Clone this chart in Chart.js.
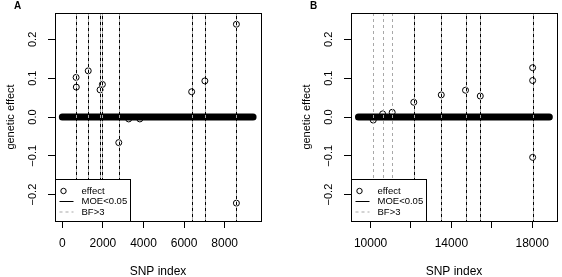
<!DOCTYPE html>
<html>
<head>
<meta charset="utf-8">
<script src="https://cdn.jsdelivr.net/npm/chart.js@4.4.0/dist/chart.umd.min.js"></script>
<style>
  html, body { margin: 0; padding: 0; background: #fff; overflow: hidden; }
  #wrap { position: relative; width: 562px; height: 277px; }
  canvas { position: absolute; top: 0; }
</style>
</head>
<body>
<div id="wrap">
  <canvas id="chartA" width="266" height="277" style="left:0px"></canvas>
  <canvas id="chartB" width="266" height="277" style="left:296px"></canvas>
</div>
<script>
// values
const yRange = [-0.268, 0.268];
const yTicks = [-0.2, -0.1, 0, 0.1, 0.2];

const aRange = [-360, 9790];
const aTicks = [0, 2000, 4000, 6000, 8000];
const aTickLabels = ['0', '2000', '4000', '6000', '8000'];
const aSnpSpan = [1, 9400];
const aEffectIdx = [680, 690, 1277, 1860, 1975, 2782, 3270, 3820, 6374, 7024, 8578, 8578];
const aEffectVal = [0.102, 0.077, 0.119, 0.070, 0.084, -0.066, -0.005, -0.005, 0.065, 0.093, 0.239, -0.222];
const aMoe = [680, 1277, 1880, 1975, 2782, 6374, 7024, 8578];
const aBf = [680, 1277, 1880, 1975, 2782, 6374, 7024, 8578];

const bRange = [9030, 19230];
const bTicks = [10000, 12000, 14000, 16000, 18000];
const bTickLabels = ['10000', '', '14000', '', '18000'];
const bSnpSpan = [9400, 18850];
const bEffectIdx = [10131, 10598, 11070, 12139, 13500, 14700, 15431, 18024, 18024, 18024];
const bEffectVal = [-0.008, 0.008, 0.012, 0.038, 0.057, 0.069, 0.054, 0.127, 0.094, -0.104];
const bMoe = [12139, 13500, 14700, 15431, 18024];
const bBf = [10131, 10598, 11070, 12139, 13500, 14700, 15431, 18024];

const FONT = '"Liberation Sans", Arial, Helvetica, sans-serif';
const BF_GREY = '#a8a8a8';

function fmtY(v) {
  const s = Math.abs(v).toFixed(1);
  return v < 0 ? '\u2212' + s : s;
}

// R style decorations: box, rotated y labels, titles, legend, abline()s
const rPlot = {
  id: 'rPlot',
  afterDatasetsDraw(chart, args, opts) {
    const { ctx, chartArea: ca, scales } = chart;
    ctx.save();
    ctx.lineWidth = 1;
    opts.moe.forEach(v => {
      const x = Math.round(scales.x.getPixelForValue(v)) + 0.5;
      ctx.strokeStyle = '#000';
      ctx.setLineDash([]);
      ctx.beginPath(); ctx.moveTo(x, ca.top); ctx.lineTo(x, ca.bottom); ctx.stroke();
    });
    opts.bf.forEach(v => {
      const x = Math.round(scales.x.getPixelForValue(v)) + 0.5;
      ctx.strokeStyle = BF_GREY;
      ctx.setLineDash([3, 3]);
      ctx.beginPath(); ctx.moveTo(x, ca.top); ctx.lineTo(x, ca.bottom); ctx.stroke();
    });
    ctx.restore();
  },
  afterDraw(chart, args, opts) {
    const { ctx, chartArea: ca, scales } = chart;
    ctx.save();
    ctx.fillStyle = '#000';
    ctx.strokeStyle = '#000';
    ctx.lineWidth = 1;
    ctx.setLineDash([]);

    // legend
    const lw = 75, lh = 42;
    const lx = ca.left + 0.5, ly = ca.bottom - lh + 0.5;
    ctx.fillStyle = '#fff';
    ctx.fillRect(lx, ly, lw, lh);
    ctx.strokeRect(lx, ly, lw, lh);
    ctx.fillStyle = '#000';
    const rows = [ly + 11.5, ly + 22, ly + 32.5];
    ctx.beginPath(); ctx.arc(lx + 8, rows[0], 2.7, 0, Math.PI * 2); ctx.stroke();
    ctx.beginPath(); ctx.moveTo(lx + 4, rows[1]); ctx.lineTo(lx + 18, rows[1]); ctx.stroke();
    ctx.strokeStyle = BF_GREY;
    ctx.setLineDash([3, 3]);
    ctx.beginPath(); ctx.moveTo(lx + 4, rows[2]); ctx.lineTo(lx + 18, rows[2]); ctx.stroke();
    ctx.setLineDash([]);
    ctx.font = '9.5px ' + FONT;
    ctx.textAlign = 'left';
    ctx.textBaseline = 'middle';
    ['effect', 'MOE<0.05', 'BF>3'].forEach((t, i) => ctx.fillText(t, lx + 26, rows[i]));

    // box
    ctx.strokeStyle = '#000';
    ctx.strokeRect(ca.left + 0.5, ca.top + 0.5, ca.right - ca.left, ca.bottom - ca.top);

    // y tick labels, rotated like R
    ctx.font = '11px ' + FONT;
    ctx.textAlign = 'center';
    ctx.textBaseline = 'middle';
    yTicks.forEach(v => {
      const y = scales.y.getPixelForValue(v);
      ctx.save();
      ctx.translate(33, y);
      ctx.rotate(-Math.PI / 2);
      ctx.fillText(fmtY(v), 0, 0);
      ctx.restore();
    });

    // y title
    ctx.save();
    ctx.translate(11, (ca.top + ca.bottom) / 2);
    ctx.rotate(-Math.PI / 2);
    ctx.font = '11px ' + FONT;
    ctx.fillText('genetic effect', 0, 0);
    ctx.restore();

    // x title
    ctx.font = '12px ' + FONT;
    ctx.fillText('SNP index', (ca.left + ca.right) / 2, 271.5);

    // panel letter
    ctx.font = 'bold 10px ' + FONT;
    ctx.fillText(opts.letter, 17.5, 6.5);
    ctx.restore();
  }
};

function makePanel(id, letter, range, ticks, tickLabels, span, idx, vals, moe, bf) {
  const effect = idx.map((x, i) => ({ x, y: vals[i] }));
  const band = span.map(x => ({ x, y: 0 }));

  return new Chart(document.getElementById(id), {
    type: 'scatter',
    data: {
      datasets: [
        {
          type: 'line',
          data: band,
          borderColor: '#000',
          borderWidth: 7,
          borderCapStyle: 'round',
          pointRadius: 0,
          order: 2
        },
        {
          data: effect,
          pointStyle: 'circle',
          pointRadius: 3,
          pointBorderWidth: 1,
          borderColor: '#000',
          backgroundColor: 'rgba(0,0,0,0)',
          order: 1
        }
      ]
    },
    options: {
      responsive: false,
      devicePixelRatio: 1,
      animation: false,
      events: [],
      layout: { padding: { left: 0, right: 2, top: 13, bottom: 0 } },
      plugins: {
        legend: { display: false },
        tooltip: { enabled: false },
        rPlot: { letter, moe, bf }
      },
      scales: {
        x: {
          type: 'linear',
          min: range[0],
          max: range[1],
          afterBuildTicks: s => { s.ticks = ticks.map(v => ({ value: v })); },
          afterFit: s => { s.height = 56; },
          grid: { drawOnChartArea: false, drawTicks: true, tickLength: 7, color: '#000' },
          border: { display: true, color: '#000' },
          ticks: {
            autoSkip: false,
            maxRotation: 0,
            padding: 8,
            color: '#000',
            font: { family: FONT, size: 12 },
            callback: v => tickLabels[ticks.indexOf(v)] ?? ''
          }
        },
        y: {
          type: 'linear',
          min: yRange[0],
          max: yRange[1],
          afterBuildTicks: s => { s.ticks = yTicks.map(v => ({ value: v })); },
          afterFit: s => { s.width = 55; },
          grid: { drawOnChartArea: false, drawTicks: true, tickLength: 7, color: '#000' },
          border: { display: true, color: '#000' },
          ticks: { callback: () => '' }
        }
      }
    },
    plugins: [rPlot]
  });
}

makePanel('chartA', 'A', aRange, aTicks, aTickLabels, aSnpSpan, aEffectIdx, aEffectVal, aMoe, aBf);
makePanel('chartB', 'B', bRange, bTicks, bTickLabels, bSnpSpan, bEffectIdx, bEffectVal, bMoe, bBf);
</script>
</body>
</html>
